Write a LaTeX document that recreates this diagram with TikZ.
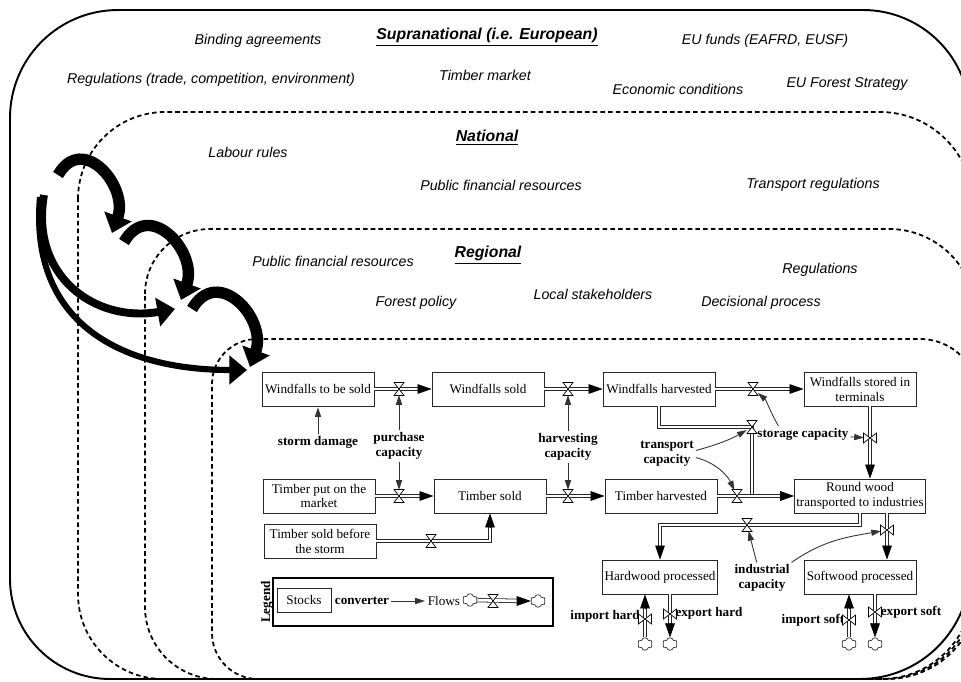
\documentclass[tikz,border=0pt]{standalone}
\usepackage{fontspec}
\setmainfont{Liberation Serif}
\setsansfont{Liberation Sans}
\usetikzlibrary{arrows.meta,shapes.symbols,calc}

\begin{document}
\begin{tikzpicture}[x=0.02cm, y=-0.02cm,
    factor/.style={font=\sffamily\itshape\fontsize{8.1}{9.7}\selectfont, inner sep=1pt},
    leveltitle/.style={font=\sffamily\bfseries\itshape\fontsize{9}{10.8}\selectfont, inner sep=1pt},
    stock/.style={draw=black!85, line width=0.5pt, minimum width=2.24cm, minimum height=0.68cm, inner sep=1pt, align=center, font=\fontsize{7.5}{8.5}\selectfont},
    conv/.style={font=\bfseries\fontsize{7.5}{8.5}\selectfont, align=center, inner sep=1pt},
    cloudnode/.style={cloud, cloud puffs=6, draw=black!80, line width=0.4pt, fill=white, minimum width=0.3cm, minimum height=0.25cm, inner sep=0pt},
    pipe/.style={draw=black!85, line width=0.45pt, double, double distance=1.6pt},
    pipetip/.style={line width=0.4pt, -{Triangle[length=8pt,width=5.5pt]}},
    info/.style={draw=black!80, line width=0.5pt, -{Triangle[length=5.5pt,width=3.5pt]}, shorten >=3.5pt},
    bigarrow/.style={line width=6.5pt, -{Triangle[length=10pt,width=16pt]}},
    levelframe/.style={line width=1pt, dash pattern=on 2.6pt off 1.8pt},
    pics/hvalve/.style={code={\draw[line width=0.4pt, fill=white] (-5,-6.5) -- (5,6.5) -- (-5,6.5) -- (5,-6.5) -- cycle;}},
    pics/vvalve/.style={code={\draw[line width=0.4pt, fill=white] (-6.5,-5) -- (6.5,5) -- (6.5,-5) -- (-6.5,5) -- cycle;}}]

    \useasboundingbox (0,0) rectangle (961,682);
    \clip (0,0) rectangle (961,682);

    % Levels
    \draw[levelframe] (78,199) arc[start angle=180, end angle=90, radius=1.74cm] -- (880,112)
      arc[start angle=90, end angle=0, radius=1.86cm] -- (973,587)
      arc[start angle=0, end angle=-90, radius=1.84cm] -- (163,679)
      arc[start angle=270, end angle=180, radius=1.7cm] -- cycle;
    \draw[levelframe] (145,294) arc[start angle=180, end angle=90, radius=1.3cm] -- (889,229)
      arc[start angle=90, end angle=0, radius=1.74cm] -- (976,587)
      arc[start angle=0, end angle=-90, radius=1.84cm] -- (217,679)
      arc[start angle=270, end angle=180, radius=1.44cm] -- cycle;
    \draw[levelframe] (212,384) arc[start angle=180, end angle=90, radius=0.9cm] -- (920,339)
      arc[start angle=90, end angle=0, radius=1.18cm] -- (979,587)
      arc[start angle=0, end angle=-90, radius=1.84cm] -- (258,679)
      arc[start angle=270, end angle=180, radius=0.92cm] -- cycle;
    \draw[line width=1.1pt] (10,118) arc[start angle=180, end angle=90, radius=2.16cm] -- (863,10)
      arc[start angle=90, end angle=0, radius=2.14cm] -- (970,569)
      arc[start angle=0, end angle=-90, radius=2.2cm] -- (110,679)
      arc[start angle=270, end angle=180, radius=2cm] -- cycle;

    % Supranational
    \node[leveltitle] (supra) at (487,37) {\underline{Supranational (i.e. European)}};
    \node[factor] (binding) at (258,41) {Binding agreements};
    \node[factor] (eufunds) at (765,41) {EU funds (EAFRD, EUSF)};
    \node[factor] (regtrade) at (211,80) {Regulations (trade, competition, environment)};
    \node[factor] (timbermkt) at (485,75) {Timber market};
    \node[factor] (econ) at (678,89) {Economic conditions};
    \node[factor] (euforest) at (847,84) {EU Forest Strategy};

    % National
    \node[leveltitle] (national) at (487,138) {\underline{National}};
    \node[factor] (labour) at (248,152) {Labour rules};
    \node[factor] (natfin) at (501,185) {Public financial resources};
    \node[factor] (transreg) at (813,185) {Transport regulations};

    % Regional
    \node[leveltitle] (regional) at (488,255) {\underline{Regional}};
    \node[factor] (regfin) at (333,261) {Public financial resources};
    \node[factor] (regreg) at (820,270) {Regulations};
    \node[factor] (localst) at (593,294) {Local stakeholders};
    \node[factor] (forestpol) at (416,303) {Forest policy};
    \node[factor] (decision) at (761,303) {Decisional process};

    % Stocks
    \node[stock] (wtbs) at (318,389) {Windfalls to be sold};
    \node[stock] (wsold) at (488,389) {Windfalls sold};
    \node[stock] (wharv) at (659,389) {Windfalls harvested};
    \node[stock] (wstored) at (860,389) {Windfalls stored in\\terminals};
    \node[stock] (tput) at (319,496) {Timber put on the\\market};
    \node[stock] (tsold) at (490,496) {Timber sold};
    \node[stock] (tharv) at (661,496) {Timber harvested};
    \node[stock, minimum width=2.5cm] (roundwood) at (860,496) {Round wood\\transported to industries};
    \node[stock] (tbefore) at (320,541) {Timber sold before\\the storm};
    \node[stock] (hardwood) at (660,577) {Hardwood processed};
    \node[stock] (softwood) at (860,577) {Softwood processed};

    % Converters
    \node[conv] (storm) at (318,442) {storm damage};
    \node[conv] (purchase) at (399,446) {purchase\\capacity};
    \node[conv] (harvcap) at (568,447) {harvesting\\capacity};
    \node[conv] (transcap) at (667,454) {transport\\capacity};
    \node[conv] (storcap) at (803,434) {storage capacity};
    \node[conv] (induscap) at (762,578) {industrial\\capacity};
    \node[conv] (imphard) at (605,616) {import hard};
    \node[conv] (exphard) at (709,613) {export hard};
    \node[conv] (impsoft) at (813,620) {import soft};
    \node[conv] (expsoft) at (911,612) {export soft};

    % Clouds
    \node[cloudnode] (cimph) at (645,644) {};
    \node[cloudnode] (cexph) at (670,644) {};
    \node[cloudnode] (cimps) at (849,644) {};
    \node[cloudnode] (cexps) at (875,644) {};

    % Valves
    \coordinate (vws) at (399,389);
    \coordinate (vwh) at (568,389);
    \coordinate (vwst) at (753,389);
    \coordinate (vterm) at (870,438);
    \coordinate (vts) at (399,496);
    \coordinate (vth) at (568,496);
    \coordinate (vrw) at (737,496);
    \coordinate (vwtr) at (752,427);
    \coordinate (vbefore) at (431,541);
    \coordinate (vhard) at (747,525);
    \coordinate (vsoft) at (887,530);
    \coordinate (vimph) at (645,619);
    \coordinate (vexph) at (670,614);
    \coordinate (vimps) at (849,620);
    \coordinate (vexps) at (875,612);

    % Flows
    \draw[pipe] (wtbs) -- ($(wsold.west)+(-7,0)$);
    \draw[pipetip] ($(wsold.west)+(-14,0)$) -- (wsold.west);
    \draw[pipe] (wsold) -- ($(wharv.west)+(-7,0)$);
    \draw[pipetip] ($(wharv.west)+(-14,0)$) -- (wharv.west);
    \draw[pipe] (wharv) -- ($(wstored.west)+(-7,0)$);
    \draw[pipetip] ($(wstored.west)+(-14,0)$) -- (wstored.west);
    \draw[pipe] (wstored.south -| vterm) -- ($(roundwood.north -| vterm)+(0,-7)$);
    \draw[pipetip] ($(roundwood.north -| vterm)+(0,-14)$) -- (roundwood.north -| vterm);
    \draw[pipe] (tput) -- ($(tsold.west)+(-7,0)$);
    \draw[pipetip] ($(tsold.west)+(-14,0)$) -- (tsold.west);
    \draw[pipe] (tsold) -- ($(tharv.west)+(-7,0)$);
    \draw[pipetip] ($(tharv.west)+(-14,0)$) -- (tharv.west);
    \draw[pipe] (wharv.south) |- (vwtr) -- (vwtr |- tharv);
    \draw[pipe] (tharv) -- ($(roundwood.west)+(-7,0)$);
    \draw[pipetip] ($(roundwood.west)+(-14,0)$) -- (roundwood.west);
    \draw[pipe] (tbefore) -- (tbefore -| tsold) -- ($(tsold.south)+(0,7)$);
    \draw[pipetip] ($(tsold.south)+(0,14)$) -- (tsold.south);
    \draw[pipe] (roundwood.south) |- (vhard) -| ($(hardwood.north)+(0,-7)$);
    \draw[pipetip] ($(hardwood.north)+(0,-14)$) -- (hardwood.north);
    \draw[pipe] (roundwood.south -| vsoft) -- ($(softwood.north -| vsoft)+(0,-7)$);
    \draw[pipetip] ($(softwood.north -| vsoft)+(0,-14)$) -- (softwood.north -| vsoft);
    \draw[pipe] (cimph) -- ($(hardwood.south -| cimph)+(0,7)$);
    \draw[pipetip] ($(hardwood.south -| cimph)+(0,14)$) -- (hardwood.south -| cimph);
    \draw[pipe] (hardwood.south -| cexph) -- ($(cexph.north)+(0,-7)$);
    \draw[pipetip] ($(cexph.north)+(0,-14)$) -- (cexph.north);
    \draw[pipe] (cimps) -- ($(softwood.south -| cimps)+(0,7)$);
    \draw[pipetip] ($(softwood.south -| cimps)+(0,14)$) -- (softwood.south -| cimps);
    \draw[pipe] (softwood.south -| cexps) -- ($(cexps.north)+(0,-7)$);
    \draw[pipetip] ($(cexps.north)+(0,-14)$) -- (cexps.north);

    \pic at (vws) {hvalve};
    \pic at (vwh) {hvalve};
    \pic at (vwst) {hvalve};
    \pic at (vterm) {vvalve};
    \pic at (vts) {hvalve};
    \pic at (vth) {hvalve};
    \pic at (vrw) {hvalve};
    \pic at (vwtr) {hvalve};
    \pic at (vbefore) {hvalve};
    \pic at (vhard) {hvalve};
    \pic at (vsoft) {vvalve};
    \pic at (vimph) {vvalve};
    \pic at (vexph) {vvalve};
    \pic at (vimps) {vvalve};
    \pic at (vexps) {vvalve};

    % Information links
    \draw[info, shorten >=0.5pt] (storm) -- (wtbs);
    \draw[info] (purchase) -- (vws);
    \draw[info] (purchase) -- (vts);
    \draw[info] (harvcap) -- (vwh);
    \draw[info] (harvcap) -- (vth);
    \draw[info] ([yshift=2pt]transcap.east) to[out=15, in=-150] (vwtr);
    \draw[info] ([yshift=-2pt]transcap.east) to[out=-15, in=115] (vrw);
    \draw[info] ([xshift=-14pt]storcap.north) to[out=120, in=-40] (vwst);
    \draw[info] (storcap) -- (vterm);
    \draw[info] ([xshift=-3pt]induscap.north) -- (vhard);
    \draw[info] (induscap.north east) to[out=35, in=190] (vsoft);

    % Legend
    \node[draw, line width=1pt, minimum width=5.6cm, minimum height=0.96cm] (legend) at (413,602) {};
    \node[rotate=90, font=\bfseries\fontsize{7.5}{8.5}\selectfont, inner sep=0pt] (legendlbl) at (267,602) {Legend};
    \node[stock, minimum width=1.08cm, minimum height=0.48cm] (legstock) at (304,600) {Stocks};
    \node[conv] (legconv) at (362,601) {converter};
    \node[font=\fontsize{7.5}{8.5}\selectfont, inner sep=1pt] (legflow) at (444,601) {Flows};
    \node[cloudnode] (legsrc) at (470,600) {};
    \node[cloudnode] (legsink) at (538,601) {};
    \coordinate (legvalve) at (493,601);
    \draw[info, shorten >=0.5pt] (legconv) -- (legflow);
    \draw[pipe] (legsrc) -- ($(legsink.west)+(-7,0)$);
    \draw[pipetip] ($(legsink.west)+(-14,0)$) -- (legsink.west);
    \pic at (legvalve) {hvalve};

    % Links between levels
    \draw[bigarrow] (58,175) to[out=60, in=70, looseness=1.6] (112,233);
    \draw[bigarrow] (124,242) to[out=60, in=70, looseness=1.6] (181,300);
    \draw[bigarrow] (192,309) to[out=60, in=70, looseness=1.6] (250,367);
    \draw[bigarrow, line width=4.5pt] (44,195) to[out=-100, in=190, looseness=1.2] (175,309);
    \draw[bigarrow, line width=3.5pt] (40,197) to[out=-95, in=180, looseness=1.2] (247,370);

\end{tikzpicture}
\end{document}
